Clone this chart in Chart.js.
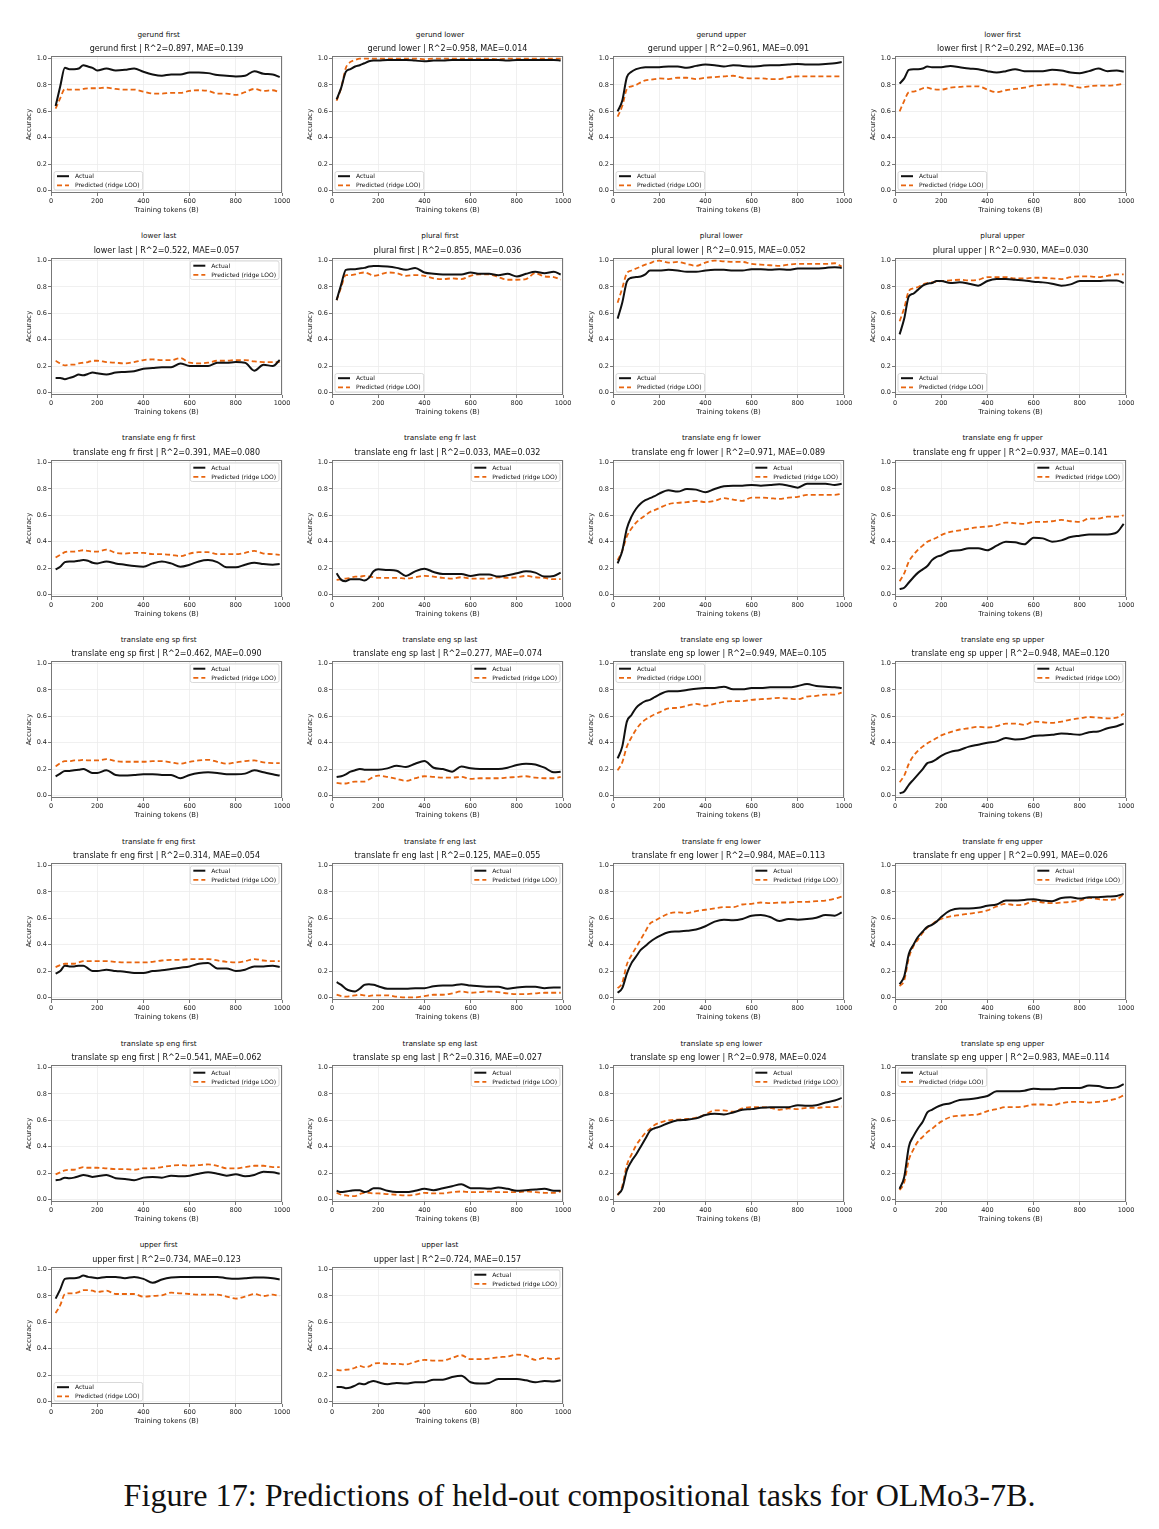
<!DOCTYPE html>
<html>
<head>
<meta charset="utf-8">
<script src="https://cdn.jsdelivr.net/npm/chart.js@4.4.1/dist/chart.umd.min.js"></script>
<style>
html,body{margin:0;padding:0;background:#fff;}
#fig{position:relative;width:1159px;height:1529px;overflow:hidden;background:#fff;}
#fig canvas{position:absolute;}
.sup{position:absolute;width:220px;text-align:center;font-family:"DejaVu Sans",sans-serif;font-size:7.3px;line-height:9px;color:#111;white-space:nowrap;}
#caption{position:absolute;left:0;top:1479px;width:1159px;text-align:center;font-family:"Liberation Serif","DejaVu Serif",serif;font-size:31px;line-height:34px;color:#111;white-space:nowrap;}
#caption span{display:inline-block;transform-origin:50% 50%;}
</style>
</head>
<body>
<div id="fig"></div>
<script>
// ---------------- data ----------------
const tokens = [20,40,60,80,100,120,140,160,180,200,240,280,320,360,400,440,480,520,560,600,640,680,720,760,800,840,880,920,960,990];
const xTicks = [0,200,400,600,800,1000];
const yTicks = [0,0.2,0.4,0.6,0.8,1.0];

const taskNames = ["gerund first","gerund lower","gerund upper","lower first","lower last","plural first","plural lower","plural upper","translate eng fr first","translate eng fr last","translate eng fr lower","translate eng fr upper","translate eng sp first","translate eng sp last","translate eng sp lower","translate eng sp upper","translate fr eng first","translate fr eng last","translate fr eng lower","translate fr eng upper","translate sp eng first","translate sp eng last","translate sp eng lower","translate sp eng upper","upper first","upper last"];
const r2Values = [0.897,0.958,0.961,0.292,0.522,0.855,0.915,0.930,0.391,0.033,0.971,0.937,0.462,0.277,0.949,0.948,0.314,0.125,0.984,0.991,0.541,0.316,0.978,0.983,0.734,0.724];
const maeValues = [0.139,0.014,0.091,0.136,0.057,0.036,0.052,0.030,0.080,0.032,0.089,0.141,0.090,0.074,0.105,0.120,0.054,0.055,0.113,0.026,0.062,0.027,0.024,0.114,0.123,0.157];
const seriesLabels = ["Actual","Predicted (ridge LOO)"];

const gerundFirstActual = [0.64,0.79,0.93,0.92,0.92,0.925,0.95,0.94,0.93,0.91,0.925,0.91,0.915,0.925,0.90,0.88,0.87,0.88,0.88,0.895,0.895,0.89,0.875,0.87,0.865,0.87,0.905,0.885,0.88,0.86];
const gerundFirstPred   = [0.62,0.70,0.77,0.765,0.765,0.765,0.77,0.775,0.775,0.775,0.78,0.77,0.765,0.765,0.75,0.735,0.735,0.74,0.74,0.755,0.76,0.755,0.735,0.735,0.725,0.745,0.77,0.755,0.76,0.745];
const gerundLowerActual = [0.69,0.78,0.90,0.92,0.94,0.95,0.965,0.98,0.985,0.985,0.99,0.99,0.99,0.985,0.98,0.985,0.985,0.99,0.99,0.99,0.99,0.99,0.99,0.985,0.99,0.99,0.99,0.99,0.99,0.985];
const gerundLowerPred   = [0.68,0.78,0.93,0.975,0.99,1.0,1.0,1.0,1.0,1.0,1.0,1.0,1.0,1.0,0.995,1.0,1.0,1.0,1.0,1.0,1.0,1.0,0.995,1.0,1.0,1.0,1.0,1.0,1.0,1.0];
const gerundUpperActual = [0.60,0.68,0.86,0.90,0.92,0.93,0.935,0.935,0.935,0.935,0.94,0.94,0.93,0.945,0.955,0.95,0.94,0.95,0.945,0.94,0.945,0.95,0.95,0.955,0.96,0.955,0.955,0.96,0.965,0.975];
const gerundUpperPred   = [0.56,0.64,0.77,0.79,0.80,0.82,0.835,0.84,0.845,0.85,0.845,0.855,0.855,0.845,0.855,0.86,0.865,0.87,0.855,0.85,0.85,0.845,0.845,0.86,0.865,0.865,0.865,0.865,0.865,0.865];
const lowerFirstActual  = [0.81,0.85,0.915,0.92,0.92,0.925,0.94,0.935,0.935,0.935,0.945,0.935,0.925,0.92,0.905,0.895,0.905,0.92,0.905,0.905,0.905,0.915,0.91,0.895,0.89,0.905,0.925,0.905,0.91,0.90];
const lowerFirstPred    = [0.60,0.68,0.745,0.75,0.76,0.775,0.78,0.77,0.765,0.765,0.78,0.785,0.79,0.79,0.765,0.745,0.76,0.77,0.78,0.795,0.80,0.805,0.805,0.795,0.78,0.79,0.795,0.795,0.80,0.81];
const lowerLastActual   = [0.11,0.11,0.10,0.11,0.12,0.135,0.13,0.14,0.15,0.145,0.135,0.15,0.155,0.16,0.18,0.185,0.19,0.19,0.22,0.20,0.20,0.20,0.225,0.225,0.23,0.225,0.165,0.21,0.20,0.245];
const lowerLastPred     = [0.24,0.22,0.205,0.21,0.21,0.22,0.225,0.23,0.24,0.24,0.23,0.225,0.22,0.23,0.245,0.25,0.245,0.245,0.26,0.225,0.22,0.225,0.24,0.24,0.245,0.245,0.235,0.23,0.23,0.23];
const pluralFirstActual = [0.70,0.82,0.93,0.935,0.935,0.94,0.945,0.955,0.96,0.96,0.955,0.945,0.93,0.945,0.91,0.90,0.895,0.895,0.895,0.91,0.90,0.90,0.89,0.90,0.88,0.90,0.915,0.905,0.915,0.895];
const pluralFirstPred   = [0.70,0.80,0.89,0.89,0.895,0.905,0.91,0.90,0.885,0.89,0.91,0.905,0.885,0.89,0.885,0.865,0.86,0.865,0.86,0.885,0.895,0.895,0.875,0.855,0.855,0.86,0.905,0.88,0.875,0.855];
const pluralLowerActual = [0.56,0.68,0.84,0.87,0.875,0.88,0.895,0.925,0.925,0.925,0.93,0.925,0.915,0.915,0.925,0.93,0.93,0.925,0.925,0.935,0.935,0.93,0.935,0.93,0.94,0.94,0.94,0.945,0.95,0.945];
const pluralLowerPred   = [0.68,0.79,0.905,0.925,0.94,0.955,0.97,0.98,0.995,1.0,0.985,0.99,0.975,0.96,0.985,1.0,0.995,0.99,0.99,0.975,0.97,0.965,0.96,0.97,0.975,0.975,0.975,0.975,0.98,0.955];
const pluralUpperActual = [0.44,0.56,0.73,0.75,0.78,0.81,0.825,0.83,0.845,0.845,0.83,0.835,0.825,0.81,0.845,0.86,0.86,0.855,0.85,0.84,0.835,0.825,0.81,0.82,0.845,0.845,0.845,0.85,0.85,0.83];
const pluralUpperPred   = [0.54,0.64,0.77,0.79,0.80,0.82,0.83,0.835,0.84,0.845,0.85,0.855,0.85,0.855,0.875,0.875,0.875,0.865,0.865,0.87,0.87,0.865,0.86,0.875,0.88,0.88,0.875,0.885,0.895,0.895];
const engFrFirstActual  = [0.19,0.21,0.245,0.25,0.25,0.255,0.26,0.255,0.24,0.235,0.25,0.235,0.225,0.215,0.21,0.235,0.25,0.235,0.21,0.225,0.25,0.26,0.245,0.205,0.205,0.225,0.24,0.23,0.225,0.23];
const engFrFirstPred    = [0.28,0.30,0.32,0.325,0.325,0.33,0.335,0.33,0.325,0.325,0.34,0.315,0.31,0.315,0.315,0.305,0.305,0.30,0.29,0.31,0.32,0.32,0.305,0.305,0.305,0.315,0.33,0.31,0.305,0.30];
const engFrLastActual   = [0.16,0.11,0.10,0.115,0.115,0.115,0.105,0.125,0.175,0.19,0.185,0.18,0.14,0.175,0.195,0.17,0.155,0.155,0.155,0.14,0.15,0.15,0.135,0.145,0.16,0.175,0.165,0.135,0.14,0.165];
const engFrLastPred     = [0.11,0.115,0.12,0.125,0.135,0.135,0.14,0.135,0.13,0.125,0.125,0.125,0.12,0.13,0.14,0.135,0.125,0.12,0.13,0.12,0.12,0.12,0.13,0.125,0.13,0.14,0.13,0.125,0.115,0.115];
const engFrLowerActual  = [0.235,0.33,0.50,0.59,0.65,0.69,0.715,0.73,0.745,0.765,0.79,0.78,0.80,0.795,0.775,0.80,0.82,0.825,0.825,0.83,0.825,0.83,0.835,0.825,0.81,0.84,0.84,0.84,0.83,0.84];
const engFrLowerPred    = [0.26,0.33,0.44,0.50,0.545,0.575,0.60,0.625,0.64,0.655,0.685,0.695,0.70,0.71,0.70,0.71,0.73,0.72,0.71,0.735,0.735,0.73,0.725,0.735,0.74,0.755,0.755,0.755,0.755,0.765];
const engFrUpperActual  = [0.04,0.05,0.09,0.13,0.165,0.19,0.215,0.26,0.285,0.295,0.33,0.335,0.35,0.35,0.335,0.37,0.40,0.395,0.38,0.43,0.425,0.40,0.41,0.435,0.445,0.455,0.455,0.455,0.47,0.535];
const engFrUpperPred    = [0.10,0.16,0.25,0.30,0.34,0.37,0.40,0.415,0.43,0.45,0.475,0.485,0.50,0.51,0.515,0.525,0.545,0.54,0.535,0.55,0.55,0.555,0.565,0.555,0.55,0.575,0.575,0.59,0.59,0.60];
const engSpFirstActual  = [0.145,0.165,0.185,0.185,0.19,0.195,0.20,0.185,0.17,0.17,0.19,0.155,0.15,0.155,0.16,0.16,0.155,0.155,0.13,0.155,0.17,0.175,0.17,0.16,0.16,0.165,0.19,0.175,0.16,0.15];
const engSpFirstPred    = [0.22,0.245,0.26,0.26,0.265,0.265,0.27,0.265,0.265,0.265,0.275,0.26,0.255,0.255,0.255,0.26,0.26,0.25,0.24,0.255,0.265,0.27,0.255,0.24,0.25,0.26,0.265,0.25,0.245,0.245];
const engSpLastActual   = [0.14,0.145,0.16,0.18,0.19,0.20,0.195,0.195,0.195,0.195,0.205,0.225,0.215,0.24,0.26,0.21,0.20,0.18,0.22,0.205,0.20,0.20,0.20,0.21,0.23,0.24,0.235,0.21,0.175,0.18];
const engSpLastPred     = [0.095,0.09,0.09,0.10,0.105,0.105,0.105,0.12,0.14,0.15,0.14,0.125,0.11,0.13,0.145,0.14,0.135,0.135,0.14,0.125,0.13,0.13,0.13,0.135,0.14,0.145,0.135,0.13,0.13,0.14];
const engSpLowerActual  = [0.28,0.37,0.56,0.61,0.665,0.695,0.715,0.725,0.745,0.765,0.79,0.79,0.80,0.81,0.815,0.815,0.825,0.805,0.805,0.815,0.815,0.82,0.82,0.82,0.83,0.845,0.83,0.825,0.82,0.815];
const engSpLowerPred    = [0.19,0.25,0.37,0.44,0.50,0.545,0.575,0.595,0.615,0.63,0.66,0.665,0.68,0.695,0.68,0.695,0.71,0.715,0.715,0.725,0.73,0.735,0.74,0.735,0.73,0.75,0.755,0.765,0.765,0.78];
const engSpUpperActual  = [0.015,0.03,0.08,0.12,0.16,0.20,0.245,0.255,0.275,0.30,0.33,0.345,0.37,0.385,0.40,0.41,0.435,0.425,0.43,0.45,0.455,0.46,0.47,0.465,0.46,0.48,0.485,0.51,0.525,0.545];
const engSpUpperPred    = [0.10,0.15,0.24,0.30,0.34,0.37,0.395,0.415,0.435,0.455,0.48,0.50,0.51,0.52,0.515,0.525,0.545,0.545,0.535,0.56,0.555,0.55,0.56,0.575,0.585,0.595,0.59,0.585,0.59,0.62];
const frEngFirstActual  = [0.18,0.20,0.24,0.235,0.235,0.24,0.24,0.22,0.20,0.20,0.21,0.20,0.195,0.185,0.185,0.20,0.205,0.215,0.225,0.235,0.255,0.26,0.22,0.22,0.20,0.21,0.235,0.235,0.24,0.23];
const frEngFirstPred    = [0.23,0.245,0.255,0.255,0.255,0.265,0.275,0.275,0.275,0.275,0.275,0.27,0.265,0.265,0.265,0.27,0.28,0.285,0.285,0.29,0.29,0.29,0.28,0.27,0.265,0.275,0.29,0.28,0.275,0.275];
const frEngLastActual   = [0.115,0.095,0.065,0.05,0.045,0.065,0.095,0.10,0.095,0.085,0.065,0.065,0.065,0.07,0.07,0.085,0.09,0.09,0.10,0.09,0.085,0.08,0.08,0.065,0.075,0.08,0.08,0.07,0.075,0.075];
const frEngLastPred     = [0.02,0.01,0.005,0.01,0.015,0.02,0.015,0.01,0.015,0.015,0.015,0.005,0.0,0.0,0.01,0.02,0.02,0.03,0.045,0.035,0.04,0.045,0.04,0.03,0.025,0.025,0.03,0.035,0.035,0.035];
const frEngLowerActual  = [0.035,0.07,0.18,0.26,0.31,0.36,0.39,0.42,0.445,0.465,0.495,0.50,0.505,0.515,0.54,0.575,0.59,0.585,0.595,0.62,0.625,0.61,0.58,0.595,0.59,0.595,0.605,0.625,0.62,0.645];
const frEngLowerPred    = [0.07,0.11,0.25,0.32,0.38,0.44,0.50,0.56,0.58,0.60,0.635,0.645,0.64,0.655,0.665,0.675,0.685,0.685,0.705,0.71,0.72,0.715,0.72,0.72,0.725,0.725,0.73,0.735,0.75,0.765];
const frEngUpperActual  = [0.10,0.16,0.33,0.40,0.46,0.50,0.535,0.55,0.575,0.61,0.66,0.675,0.675,0.68,0.695,0.705,0.735,0.735,0.74,0.745,0.735,0.73,0.755,0.76,0.75,0.76,0.76,0.765,0.77,0.785];
const frEngUpperPred    = [0.085,0.13,0.30,0.39,0.44,0.49,0.53,0.555,0.58,0.595,0.615,0.625,0.635,0.645,0.66,0.69,0.71,0.70,0.705,0.73,0.72,0.715,0.72,0.725,0.735,0.755,0.745,0.74,0.745,0.785];
const spEngFirstActual  = [0.145,0.15,0.165,0.16,0.165,0.175,0.185,0.18,0.17,0.175,0.185,0.16,0.155,0.145,0.165,0.17,0.165,0.18,0.175,0.18,0.195,0.205,0.195,0.18,0.19,0.175,0.185,0.21,0.205,0.195];
const spEngFirstPred    = [0.19,0.205,0.22,0.225,0.225,0.235,0.245,0.24,0.24,0.24,0.235,0.23,0.23,0.225,0.235,0.235,0.245,0.255,0.26,0.255,0.26,0.265,0.255,0.235,0.235,0.245,0.255,0.255,0.245,0.245];
const spEngLastActual   = [0.065,0.055,0.06,0.065,0.07,0.07,0.055,0.065,0.085,0.085,0.065,0.055,0.055,0.065,0.08,0.07,0.085,0.10,0.115,0.085,0.085,0.08,0.09,0.08,0.065,0.07,0.075,0.08,0.065,0.065];
const spEngLastPred     = [0.05,0.035,0.03,0.025,0.025,0.04,0.05,0.05,0.045,0.045,0.04,0.035,0.03,0.035,0.05,0.045,0.045,0.055,0.06,0.055,0.055,0.06,0.055,0.055,0.055,0.06,0.055,0.05,0.05,0.06];
const spEngLowerActual  = [0.035,0.08,0.22,0.29,0.34,0.40,0.46,0.52,0.54,0.55,0.58,0.60,0.605,0.615,0.64,0.65,0.645,0.66,0.68,0.685,0.695,0.70,0.70,0.70,0.715,0.71,0.715,0.735,0.75,0.77];
const spEngLowerPred    = [0.03,0.10,0.26,0.34,0.41,0.46,0.505,0.535,0.565,0.58,0.60,0.605,0.61,0.62,0.645,0.675,0.675,0.665,0.69,0.70,0.70,0.695,0.68,0.69,0.685,0.695,0.695,0.70,0.70,0.705];
const spEngUpperActual  = [0.08,0.17,0.40,0.48,0.54,0.59,0.66,0.68,0.70,0.715,0.73,0.755,0.76,0.77,0.785,0.82,0.82,0.82,0.825,0.84,0.835,0.835,0.845,0.845,0.845,0.865,0.86,0.845,0.85,0.875];
const spEngUpperPred    = [0.07,0.13,0.30,0.38,0.44,0.475,0.51,0.535,0.565,0.59,0.625,0.635,0.64,0.645,0.67,0.685,0.70,0.70,0.705,0.72,0.72,0.715,0.73,0.74,0.74,0.735,0.74,0.75,0.765,0.79];
const upperFirstActual  = [0.78,0.85,0.93,0.935,0.935,0.94,0.955,0.945,0.94,0.935,0.945,0.945,0.935,0.945,0.93,0.90,0.925,0.94,0.945,0.945,0.945,0.945,0.945,0.935,0.93,0.935,0.94,0.94,0.935,0.925];
const upperFirstPred    = [0.67,0.73,0.815,0.82,0.82,0.83,0.845,0.845,0.84,0.83,0.84,0.815,0.815,0.815,0.795,0.80,0.805,0.825,0.82,0.815,0.81,0.81,0.81,0.795,0.78,0.795,0.815,0.80,0.81,0.80];
const upperLastActual   = [0.11,0.11,0.10,0.105,0.12,0.135,0.13,0.145,0.155,0.145,0.13,0.14,0.135,0.145,0.145,0.165,0.165,0.185,0.195,0.145,0.135,0.14,0.17,0.17,0.17,0.16,0.145,0.155,0.15,0.16];
const upperLastPred     = [0.24,0.235,0.24,0.245,0.255,0.27,0.26,0.265,0.285,0.29,0.285,0.285,0.28,0.30,0.315,0.31,0.31,0.33,0.35,0.32,0.32,0.325,0.335,0.34,0.355,0.345,0.315,0.33,0.32,0.33];

const actualSeries = [gerundFirstActual,gerundLowerActual,gerundUpperActual,lowerFirstActual,lowerLastActual,pluralFirstActual,pluralLowerActual,pluralUpperActual,engFrFirstActual,engFrLastActual,engFrLowerActual,engFrUpperActual,engSpFirstActual,engSpLastActual,engSpLowerActual,engSpUpperActual,frEngFirstActual,frEngLastActual,frEngLowerActual,frEngUpperActual,spEngFirstActual,spEngLastActual,spEngLowerActual,spEngUpperActual,upperFirstActual,upperLastActual];
const predictedSeries = [gerundFirstPred,gerundLowerPred,gerundUpperPred,lowerFirstPred,lowerLastPred,pluralFirstPred,pluralLowerPred,pluralUpperPred,engFrFirstPred,engFrLastPred,engFrLowerPred,engFrUpperPred,engSpFirstPred,engSpLastPred,engSpLowerPred,engSpUpperPred,frEngFirstPred,frEngLastPred,frEngLowerPred,frEngUpperPred,spEngFirstPred,spEngLastPred,spEngLowerPred,spEngUpperPred,upperFirstPred,upperLastPred];

// ---------------- layout / style ----------------
const legendCorners = ["ll","ll","ll","ll","ur","ll","ll","ll","ur","ur","ur","ur","ur","ur","ul","ur","ur","ur","ur","ur","ur","ur","ur","ul","ll","ur"];
const FONT = '"DejaVu Sans", sans-serif';
const ACTUAL_COLOR = '#111111';
const PRED_COLOR = '#e8650f';
const COL_STEP = 281.3, ROW_STEP = 201.8;
const AX_LEFT0 = 50.7, AX_TOP0 = 56, AX_W = 231, AX_H = 137;
const Y_AXIS_W = 36, TOP_BLOCK = 30, X_AXIS_H = 21, RIGHT_PAD = 12;

Chart.defaults.font.family = FONT;
Chart.defaults.color = '#222';

const framePlugin = {
  id: 'frame',
  afterDatasetsDraw(chart) {
    const {ctx, chartArea: a} = chart;
    ctx.save();
    ctx.strokeStyle = '#777777';
    ctx.lineWidth = 1;
    ctx.strokeRect(a.left + 0.5, a.top + 0.5, a.right - a.left - 1, a.bottom - a.top - 1);
    ctx.restore();
  }
};

const insideLegend = {
  id: 'insideLegend',
  afterDatasetsDraw(chart, args, opts) {
    const {ctx, chartArea: a} = chart;
    const ds = chart.data.datasets;
    ctx.save();
    ctx.font = '6px ' + FONT;
    const tw = Math.max(...ds.map(d => ctx.measureText(d.label).width));
    const w = 21.5 + tw + 2.5, h = 18.5, gap = 3;
    const corner = opts.corner || 'ur';
    const x = corner[1] === 'l' ? a.left + gap : a.right - gap - w;
    const y = corner[0] === 'u' ? a.top + gap : a.bottom - gap - h;
    ctx.beginPath();
    ctx.roundRect(x, y, w, h, 2);
    ctx.fillStyle = 'rgba(255,255,255,0.85)';
    ctx.fill();
    ctx.strokeStyle = '#cfcfcf';
    ctx.lineWidth = 0.8;
    ctx.stroke();
    ds.forEach((d, i) => {
      const cy = y + 4.7 + i * 9.2;
      ctx.beginPath();
      ctx.setLineDash(d.borderDash || []);
      ctx.strokeStyle = d.borderColor;
      ctx.lineWidth = d.borderWidth;
      ctx.moveTo(x + 3, cy);
      ctx.lineTo(x + 15, cy);
      ctx.stroke();
      ctx.setLineDash([]);
      ctx.fillStyle = '#111';
      ctx.textBaseline = 'middle';
      ctx.textAlign = 'left';
      ctx.fillText(d.label, x + 21, cy + 0.3);
    });
    ctx.restore();
  }
};

const fig = document.getElementById('fig');

taskNames.forEach((name, i) => {
  const c = i % 4, r = Math.floor(i / 4);
  const L = AX_LEFT0 + COL_STEP * c, T = AX_TOP0 + ROW_STEP * r;
  const cl = Math.round(L - Y_AXIS_W), ct = Math.round(T - TOP_BLOCK);

  // subfigure title
  const sup = document.createElement('div');
  sup.className = 'sup';
  sup.textContent = name;
  sup.style.left = (158.7 + COL_STEP * c - 110) + 'px';
  sup.style.top = (34 + ROW_STEP * r - 4.5) + 'px';
  fig.appendChild(sup);

  const cv = document.createElement('canvas');
  const W = Y_AXIS_W + AX_W + RIGHT_PAD, H = TOP_BLOCK + AX_H + X_AXIS_H;
  cv.width = W; cv.height = H;
  cv.style.left = cl + 'px'; cv.style.top = ct + 'px';
  cv.style.width = W + 'px'; cv.style.height = H + 'px';
  fig.appendChild(cv);

  const actualPts = tokens.map((t, k) => ({x: t, y: actualSeries[i][k]}));
  const predPts = tokens.map((t, k) => ({x: t, y: predictedSeries[i][k]}));

  new Chart(cv, {
    type: 'line',
    data: {
      datasets: [
        {label: seriesLabels[0], data: actualPts, borderColor: ACTUAL_COLOR, borderWidth: 2, pointRadius: 0, fill: false, cubicInterpolationMode: 'monotone'},
        {label: seriesLabels[1], data: predPts, borderColor: PRED_COLOR, borderWidth: 1.8, borderDash: [5, 3], pointRadius: 0, fill: false, cubicInterpolationMode: 'monotone'}
      ]
    },
    options: {
      responsive: false,
      animation: false,
      devicePixelRatio: 1,
      events: [],
      layout: {padding: {top: 15, right: RIGHT_PAD, bottom: 0, left: 0}},
      plugins: {
        legend: {display: false},
        tooltip: {enabled: false},
        title: {
          display: true,
          fullSize: false,
          text: name + ' | R^2=' + r2Values[i].toFixed(3) + ', MAE=' + maeValues[i].toFixed(3),
          color: '#111',
          font: {size: 8, weight: 'normal', lineHeight: '10px'},
          padding: {top: 3, bottom: 2}
        },
        insideLegend: {corner: legendCorners[i]}
      },
      scales: {
        x: {
          type: 'linear', min: 0, max: 1000,
          afterBuildTicks: s => { s.ticks = xTicks.map(v => ({value: v})); },
          afterFit: s => { s.height = X_AXIS_H; },
          ticks: {font: {size: 6.5}, color: '#222', padding: 1, maxRotation: 0, callback: v => String(v)},
          grid: {color: '#ececec', lineWidth: 0.8, tickColor: '#555', tickLength: 3, tickWidth: 0.8},
          border: {display: false},
          title: {display: true, text: 'Training tokens (B)', font: {size: 6.9}, color: '#222', padding: {top: 0, bottom: 0}}
        },
        y: {
          type: 'linear', min: -0.02, max: 1.02,
          afterBuildTicks: s => { s.ticks = yTicks.map(v => ({value: v})); },
          afterFit: s => { s.width = Y_AXIS_W; },
          ticks: {font: {size: 6.5}, color: '#222', padding: 1, callback: v => v.toFixed(1)},
          grid: {color: '#ececec', lineWidth: 0.8, tickColor: '#555', tickLength: 3, tickWidth: 0.8},
          border: {display: false},
          title: {display: true, text: 'Accuracy', font: {size: 6.9}, color: '#222', padding: {top: 10.4, bottom: 0}}
        }
      }
    },
    plugins: [framePlugin, insideLegend]
  });
});

// caption
const cap = document.createElement('div');
cap.id = 'caption';
const span = document.createElement('span');
span.textContent = 'Figure 17: Predictions of held-out compositional tasks for OLMo3-7B.';
cap.appendChild(span);
fig.appendChild(cap);
const wNow = span.getBoundingClientRect().width;
if (wNow > 0) span.style.transform = 'scaleX(' + (912 / wNow).toFixed(4) + ')';
</script>
</body>
</html>
